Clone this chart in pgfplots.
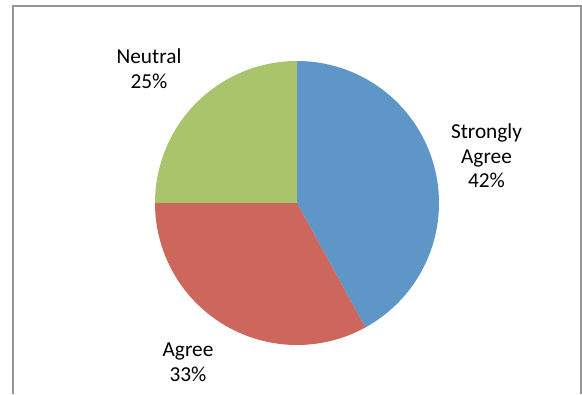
\documentclass[border=0pt]{standalone}
\usepackage{pgfplots}
\pgfplotsset{compat=1.18}
\usepackage{fontspec}
\setmainfont{Carlito}
\definecolor{cSA}{RGB}{94,150,200}
\definecolor{cA}{RGB}{205,102,93}
\definecolor{cN}{RGB}{170,196,108}
\definecolor{frame}{RGB}{150,150,150}
% values (percent)
\def\vSA{42}
\def\vA{33}
\def\vN{25}
\begin{document}
\begin{tikzpicture}
\pgfmathsetmacro{\aZero}{90}
\pgfmathsetmacro{\aOne}{90-3.6*\vSA}
\pgfmathsetmacro{\aTwo}{\aOne-3.6*\vA}
\pgfmathsetmacro{\aThree}{\aTwo-3.6*\vN}
\begin{axis}[
  scale only axis, width=582pt, height=392pt,
  xmin=0, xmax=582, ymin=0, ymax=392,
  hide axis, clip=false,
]
\path (axis cs:0,0) rectangle (axis cs:582,392);
\path[draw=frame, line width=2pt] (axis cs:12.5,-2) -- (axis cs:12.5,386) -- (axis cs:580.5,386) -- (axis cs:580.5,-2);
\addplot[fill=cSA, draw=none, domain=\aZero:\aOne, samples=120, variable=\t]
  ({297+142*cos(t)},{189+142*sin(t)}) -- (axis cs:297,189) -- cycle;
\addplot[fill=cA, draw=none, domain=\aOne:\aTwo, samples=100, variable=\t]
  ({297+142*cos(t)},{189+142*sin(t)}) -- (axis cs:297,189) -- cycle;
\addplot[fill=cN, draw=none, domain=\aTwo:\aThree, samples=80, variable=\t]
  ({297+142*cos(t)},{189+142*sin(t)}) -- (axis cs:297,189) -- cycle;
\node[align=center, font=\fontsize{21.3}{24.7}\selectfont, inner sep=0pt] at (axis cs:149,323.5) {Neutral\\25\%};
\node[align=center, font=\fontsize{21.3}{24.7}\selectfont, inner sep=0pt] at (axis cs:486.5,236) {Strongly\\Agree\\42\%};
\node[align=center, font=\fontsize{21.3}{24.7}\selectfont, inner sep=0pt] at (axis cs:188,29.5) {Agree\\33\%};
\end{axis}
\end{tikzpicture}
\end{document}
